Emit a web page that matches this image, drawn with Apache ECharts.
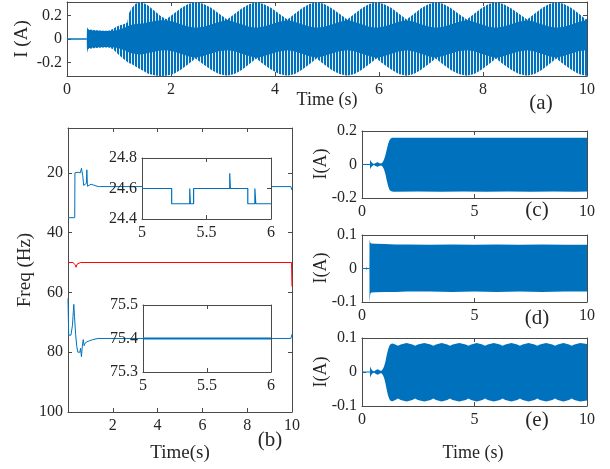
<!DOCTYPE html>
<html>
<head>
<meta charset="utf-8">
<script src="https://cdn.jsdelivr.net/npm/echarts@6/dist/echarts.min.js"></script>
<style>
  html, body { margin: 0; padding: 0; background: #fff; }
  #chart { width: 610px; height: 469px; }
</style>
</head>
<body>
<div id="chart"></div>
<script>
// ---------- (a) current envelope: outer (beating) and inner (solid) bands ----------
const aBaseTime = [0, 0.38];
const aBaseVal = [0, 0];
const aTime = [0.38, 0.385, 0.40, 0.50, 0.60, 0.70, 0.80, 0.88, 0.95, 1.02, 1.10, 1.16, 1.19, 1.25, 1.32, 1.40, 1.48, 1.56, 1.64, 1.72, 1.80,
  1.91, 2.05, 2.19, 2.33, 2.47, 2.62, 2.77, 2.92,
  3.08, 3.22, 3.36, 3.50, 3.64, 3.78, 3.93, 4.08,
  4.24, 4.38, 4.52, 4.66, 4.80, 4.94, 5.09, 5.24,
  5.39, 5.53, 5.67, 5.81, 5.95, 6.09, 6.24, 6.38,
  6.53, 6.67, 6.81, 6.95, 7.09, 7.23, 7.38, 7.53,
  7.69, 7.83, 7.97, 8.11, 8.25, 8.39, 8.54, 8.69,
  8.85, 8.99, 9.13, 9.27, 9.41, 9.55, 9.70, 9.84,
  9.98, 10.0];
const aOuterUp = [0.00, 0.10, 0.082, 0.076, 0.073, 0.071, 0.071, 0.085, 0.105, 0.118, 0.128, 0.14, 0.22, 0.265, 0.30, 0.312, 0.305, 0.285, 0.255, 0.225, 0.195,
  0.168, 0.215, 0.262, 0.297, 0.312, 0.300, 0.265, 0.218,
  0.165, 0.213, 0.260, 0.296, 0.313, 0.299, 0.263, 0.216,
  0.166, 0.214, 0.261, 0.297, 0.312, 0.300, 0.262, 0.215,
  0.165, 0.215, 0.262, 0.298, 0.313, 0.299, 0.264, 0.217,
  0.166, 0.213, 0.261, 0.296, 0.312, 0.300, 0.263, 0.216,
  0.165, 0.214, 0.262, 0.297, 0.313, 0.299, 0.262, 0.215,
  0.166, 0.215, 0.261, 0.298, 0.312, 0.300, 0.264, 0.217,
  0.166, 0.175];
const aOuterLo = [0.00, -0.115, -0.085, -0.078, -0.074, -0.072, -0.072, -0.085, -0.115, -0.145, -0.175, -0.195, -0.205, -0.215, -0.235, -0.255, -0.275, -0.295, -0.305, -0.312, -0.315,
  -0.313, -0.299, -0.262, -0.216, -0.166, -0.214, -0.262, -0.298,
  -0.312, -0.298, -0.263, -0.215, -0.165, -0.215, -0.261, -0.299,
  -0.313, -0.299, -0.262, -0.216, -0.166, -0.214, -0.263, -0.298,
  -0.312, -0.298, -0.261, -0.215, -0.165, -0.216, -0.262, -0.299,
  -0.313, -0.299, -0.262, -0.216, -0.166, -0.214, -0.263, -0.298,
  -0.312, -0.298, -0.261, -0.215, -0.165, -0.215, -0.262, -0.299,
  -0.313, -0.299, -0.263, -0.216, -0.166, -0.214, -0.262, -0.298,
  -0.313, -0.312];
const aInnerUp = [0.00, 0.10, 0.078, 0.072, 0.070, 0.068, 0.068, 0.070, 0.074, 0.082, 0.095, 0.105, 0.115, 0.122, 0.128, 0.13, 0.135, 0.142, 0.148, 0.155, 0.16,
  0.160, 0.146, 0.126, 0.106, 0.096, 0.105, 0.124, 0.145,
  0.161, 0.145, 0.125, 0.105, 0.095, 0.106, 0.125, 0.146,
  0.160, 0.146, 0.126, 0.106, 0.096, 0.105, 0.124, 0.145,
  0.161, 0.145, 0.125, 0.105, 0.095, 0.106, 0.125, 0.146,
  0.160, 0.146, 0.126, 0.106, 0.096, 0.105, 0.124, 0.145,
  0.161, 0.145, 0.125, 0.105, 0.095, 0.106, 0.125, 0.146,
  0.160, 0.146, 0.126, 0.106, 0.096, 0.105, 0.124, 0.145,
  0.160, 0.158];
const aInnerLo = [0.00, -0.115, -0.078, -0.072, -0.070, -0.068, -0.068, -0.070, -0.074, -0.082, -0.095, -0.105, -0.115, -0.122, -0.128, -0.132, -0.128, -0.12, -0.112, -0.104, -0.098,
  -0.096, -0.106, -0.126, -0.146, -0.160, -0.145, -0.124, -0.105,
  -0.095, -0.105, -0.125, -0.145, -0.161, -0.146, -0.125, -0.106,
  -0.096, -0.106, -0.126, -0.146, -0.160, -0.145, -0.124, -0.105,
  -0.095, -0.105, -0.125, -0.145, -0.161, -0.146, -0.125, -0.106,
  -0.096, -0.106, -0.126, -0.146, -0.160, -0.145, -0.124, -0.105,
  -0.095, -0.105, -0.125, -0.145, -0.161, -0.146, -0.125, -0.106,
  -0.096, -0.106, -0.126, -0.146, -0.160, -0.145, -0.124, -0.105,
  -0.096, -0.097];

// ---------- (b) frequencies ----------
const bTimeHigh = [0, 0.30, 0.31, 0.45, 0.55, 0.60, 0.63, 0.66, 0.70, 0.78, 0.82, 0.84, 0.87, 0.95, 1.03, 1.15, 1.30, 1.40, 4, 8, 9.95, 10];
const bFreqHigh = [35, 35, 20, 19.8, 20, 18.5, 18, 21, 24.2, 24, 23.5, 19, 24.5, 24.2, 23.8, 24.1, 24.5, 24.6, 24.6, 24.6, 24.6, 25.8];
const bTimeMid = [0, 0.22, 0.26, 0.30, 0.33, 0.36, 0.40, 0.45, 0.55, 0.85, 0.88, 0.92, 9.98, 10];
const bFreqMid = [50, 50, 50.6, 50.2, 50.8, 51.6, 50.6, 50.3, 50, 50, 50.4, 50, 50, 58];
const bTimeLow = [0, 0.03, 0.13, 0.20, 0.24, 0.26, 0.29, 0.34, 0.39, 0.44, 0.53, 0.56, 0.60, 0.64, 0.68, 0.72, 0.76, 0.85, 0.95, 1.10, 1.34, 4, 8, 9.95, 10];
const bFreqLow = [62, 74.3, 74.3, 71, 66, 64, 68, 74, 78, 80, 80, 78.7, 81.5, 78, 75.8, 77.8, 77, 76.5, 76.2, 75.8, 75.4, 75.4, 75.4, 75.4, 74];
const bZoomTimeHigh = [5, 5.23, 5.23, 5.37, 5.37, 5.375, 5.375, 5.40, 5.40, 5.68, 5.68, 5.685, 5.685, 5.82, 5.82, 5.875, 5.875, 5.882, 5.882, 6];
const bZoomFreqHigh = [24.6, 24.6, 24.5, 24.5, 24.6, 24.6, 24.5, 24.5, 24.6, 24.6, 24.7, 24.7, 24.6, 24.6, 24.5, 24.5, 24.6, 24.6, 24.5, 24.5];
const bZoomTimeLow = [5, 6];
const bZoomFreqLow = [75.4, 75.4];

// ---------- (c) ----------
const cBaseTime = [0, 0.35, 0.95];
const cBaseVal = [0, 0, 0];
const cTime = [0.35, 0.36, 0.40, 0.45, 0.50, 0.55, 0.62, 0.70, 0.78, 0.85, 0.92, 0.98, 1.04, 1.10, 1.16, 1.22, 1.28, 1.34, 1.40, 2.5, 3.5, 4.5, 5.5, 6.5, 7.5, 8.5, 9.5, 10.0];
const cUp = [0, 0.028, 0.018, 0.01, 0.004, 0.004, 0.011, 0.014, 0.008, 0.006, 0.014, 0.03, 0.055, 0.09, 0.122, 0.145, 0.155, 0.159, 0.16, 0.159, 0.16, 0.159, 0.16, 0.159, 0.16, 0.159, 0.16, 0.159];
const cLo = [0, -0.028, -0.018, -0.01, -0.004, -0.004, -0.011, -0.014, -0.008, -0.006, -0.014, -0.03, -0.057, -0.095, -0.128, -0.15, -0.158, -0.161, -0.162, -0.161, -0.162, -0.161, -0.162, -0.161, -0.162, -0.161, -0.162, -0.161];

// ---------- (d) ----------
const dBaseTime = [0, 0.335];
const dBaseVal = [0, 0];
const dTime = [0.18, 0.20, 0.22, 0.33, 0.335, 0.345, 0.36, 0.38, 0.42, 0.6, 1.0, 1.5, 2.0, 3.0, 4.0, 5.0, 6.0, 7.0, 8.0, 9.0, 10.0];
const dUp = [0, 0.006, 0, 0, 0.088, 0.082, 0.078, 0.076, 0.075, 0.074, 0.073, 0.072, 0.072, 0.071, 0.072, 0.071, 0.072, 0.071, 0.072, 0.071, 0.071];
const dLo = [0, -0.006, 0, 0, -0.1, -0.095, -0.08, -0.074, -0.072, -0.071, -0.07, -0.07, -0.069, -0.069, -0.07, -0.069, -0.07, -0.069, -0.07, -0.069, -0.069];

// ---------- (e) ----------
const eBaseTime = [0, 0.35, 0.95];
const eBaseVal = [0, 0, 0];
const eTime = [0.35, 0.36, 0.40, 0.45, 0.50, 0.55, 0.62, 0.70, 0.78, 0.85, 0.92, 0.98, 1.04, 1.10, 1.16, 1.22, 1.28,
  1.36, 1.48, 1.60, 1.72, 1.98, 2.24, 2.36, 2.48, 2.77, 3.05, 3.17, 3.29, 3.54, 3.79, 3.91, 4.03, 4.32, 4.61, 4.73, 4.85,
  5.10, 5.35, 5.47, 5.59, 5.86, 6.13, 6.25, 6.37, 6.64, 6.90, 7.02, 7.14, 7.40, 7.67, 7.79, 7.91, 8.18, 8.46, 8.58, 8.70,
  8.95, 9.20, 9.32, 9.44, 9.70, 10.0];
const eUp = [0, 0.016, 0.01, 0.005, 0.002, 0.002, 0.006, 0.008, 0.005, 0.003, 0.008, 0.016, 0.03, 0.05, 0.066, 0.077, 0.082,
  0.084, 0.081, 0.077, 0.081, 0.085, 0.081, 0.077, 0.081, 0.085, 0.081, 0.077, 0.081, 0.085, 0.081, 0.077, 0.081, 0.085, 0.081, 0.077, 0.081,
  0.085, 0.081, 0.077, 0.081, 0.085, 0.081, 0.077, 0.081, 0.085, 0.081, 0.077, 0.081, 0.085, 0.081, 0.077, 0.081, 0.085, 0.081, 0.077, 0.081,
  0.085, 0.081, 0.077, 0.081, 0.085, 0.082];
const eLo = [0, -0.016, -0.01, -0.005, -0.002, -0.002, -0.006, -0.008, -0.005, -0.003, -0.008, -0.017, -0.032, -0.053, -0.07, -0.08, -0.085,
  -0.086, -0.082, -0.078, -0.082, -0.087, -0.082, -0.078, -0.082, -0.087, -0.082, -0.078, -0.082, -0.087, -0.082, -0.078, -0.082, -0.087, -0.082, -0.078, -0.082,
  -0.087, -0.082, -0.078, -0.082, -0.087, -0.082, -0.078, -0.082, -0.087, -0.082, -0.078, -0.082, -0.087, -0.082, -0.078, -0.082, -0.087, -0.082, -0.078, -0.082,
  -0.087, -0.082, -0.078, -0.082, -0.087, -0.084];

// ---------- tick labels ----------
const ticksTime10 = [0, 2, 4, 6, 8, 10];
const ticksTimeB = [2, 4, 6, 8, 10];
const ticksTime5 = [0, 5, 10];
const ticksInset = [5, 5.5, 6];
const ticksA = [-0.2, 0, 0.2];
const ticksFreq = [20, 40, 60, 80, 100];
const ticksZoomHigh = [24.4, 24.6, 24.8];
const ticksZoomLow = [75.3, 75.4, 75.5];
const ticksC = [-0.2, 0, 0.2];
const ticksDE = [-0.1, 0, 0.1];

// ---------- styling ----------
const FONT = '"Liberation Serif", "Times New Roman", serif';
const BLUE = '#0072BD';
const RED = '#FF0000';
const AXC = '#4a4a4a';
const TXT = '#262626';
const TICK_FS = 16;

const chart = echarts.init(document.getElementById('chart'), null, { renderer: 'canvas' });

// striped fill for the beating outer envelope
const stripe = document.createElement('canvas');
stripe.width = 3; stripe.height = 4;
const sctx = stripe.getContext('2d');
sctx.fillStyle = BLUE; sctx.fillRect(0, 0, 2, 4);
sctx.fillStyle = '#e6eff9'; sctx.fillRect(2, 0, 1, 4);

const grids = [
  { left: 67, top: 2, width: 520, height: 74 },      // a
  { left: 68, top: 128, width: 224, height: 284 },   // b
  { left: 142, top: 158, width: 129, height: 61, z: 5, show: true, backgroundColor: '#fff', borderWidth: 0 }, // b inset high
  { left: 143, top: 305, width: 128, height: 67, z: 5, show: true, backgroundColor: '#fff', borderWidth: 0 }, // b inset low
  { left: 362, top: 131, width: 225, height: 67 },   // c
  { left: 362, top: 235, width: 225, height: 67 },   // d
  { left: 362, top: 338, width: 225, height: 68 }    // e
];

const xAxes = [];
const yAxes = [];
function addAxes(g, xr, xt, yr, yt, opts) {
  opts = opts || {};
  const z = opts.z || 0;
  const common = (ticks) => ({
    type: 'value', gridIndex: g, z: z,
    splitLine: { show: false },
    axisLine: { show: true, onZero: false, lineStyle: { color: AXC, width: 1 } },
    axisTick: { show: true, inside: true, length: 4, customValues: ticks, lineStyle: { color: AXC, width: 1 } }
  });
  const lab = (ticks, margin) => ({
    show: true, customValues: ticks, margin: margin, fontFamily: FONT, fontSize: TICK_FS, color: TXT
  });
  xAxes.push(Object.assign(common(xt), { min: xr[0], max: xr[1], position: 'bottom', axisLabel: lab(xt, 6) }));
  xAxes.push(Object.assign(common(xt), { min: xr[0], max: xr[1], position: 'top', axisLabel: { show: false } }));
  yAxes.push(Object.assign(common(yt), { min: yr[0], max: yr[1], inverse: !!opts.inverse, position: 'left', axisLabel: lab(yt, 5) }));
  yAxes.push(Object.assign(common(yt), { min: yr[0], max: yr[1], inverse: !!opts.inverse, position: 'right', axisLabel: { show: false } }));
}
addAxes(0, [0, 10], ticksTime10, [-0.315, 0.315], ticksA);
addAxes(1, [0, 10], ticksTimeB, [5, 100], ticksFreq, { inverse: true });
addAxes(2, [5, 6], ticksInset, [24.4, 24.8], ticksZoomHigh, { z: 6 });
addAxes(3, [5, 6], ticksInset, [75.3, 75.5], ticksZoomLow, { z: 6 });
addAxes(4, [0, 10], ticksTime5, [-0.2, 0.2], ticksC);
addAxes(5, [0, 10], ticksTime5, [-0.1, 0.1], ticksDE);
addAxes(6, [0, 10], ticksTime5, [-0.1, 0.1], ticksDE);

function pairs(xs, ys) { return xs.map((x, i) => [x, ys[i]]); }

function lineSeries(g, xs, ys, color, width, z) {
  return {
    type: 'line', xAxisIndex: 2 * g, yAxisIndex: 2 * g,
    data: pairs(xs, ys), showSymbol: false, symbol: 'none', silent: true,
    lineStyle: { color: color, width: width || 1 }, z: z || 2, clip: true, animation: false
  };
}

// filled band between a lower and an upper envelope, drawn as one polygon
function bandSeries(g, ts, lo, hi, fill, z) {
  return {
    type: 'custom', xAxisIndex: 2 * g, yAxisIndex: 2 * g,
    data: ts.map((t, i) => [t, lo[i], hi[i]]),
    encode: { x: 0, y: [1, 2] },
    z: z || 2, silent: true, animation: false,
    renderItem: function (params, api) {
      if (params.dataIndex !== 0) return null;
      const pts = [];
      for (let i = 0; i < ts.length; i++) pts.push(api.coord([ts[i], hi[i]]));
      for (let i = ts.length - 1; i >= 0; i--) pts.push(api.coord([ts[i], lo[i]]));
      const cs = params.coordSys;
      return {
        type: 'polygon',
        shape: { points: pts },
        style: { fill: fill, stroke: null },
        clipPath: { type: 'rect', shape: { x: cs.x, y: cs.y, width: cs.width, height: cs.height } }
      };
    }
  };
}

const series = [
  lineSeries(0, aBaseTime, aBaseVal, BLUE, 1.5),
  bandSeries(0, aTime, aOuterLo, aOuterUp, { image: stripe, repeat: 'repeat' }),
  bandSeries(0, aTime, aInnerLo, aInnerUp, BLUE, 3),

  lineSeries(1, bTimeHigh, bFreqHigh, BLUE, 1),
  lineSeries(1, bTimeMid, bFreqMid, RED, 1),
  lineSeries(1, bTimeLow, bFreqLow, BLUE, 1),
  lineSeries(2, bZoomTimeHigh, bZoomFreqHigh, BLUE, 1.2, 7),
  lineSeries(3, bZoomTimeLow, bZoomFreqLow, BLUE, 2, 7),

  lineSeries(4, cBaseTime, cBaseVal, BLUE, 1),
  bandSeries(4, cTime, cLo, cUp, BLUE),
  lineSeries(5, dBaseTime, dBaseVal, BLUE, 1),
  bandSeries(5, dTime, dLo, dUp, BLUE),
  lineSeries(6, eBaseTime, eBaseVal, BLUE, 1),
  bandSeries(6, eTime, eLo, eUp, BLUE)
];

function label(text, x, y, size, rotate) {
  return {
    type: 'text', x: x, y: y, rotation: rotate ? Math.PI / 2 : 0, z: 100,
    style: { text: text, font: size + 'px ' + FONT, fill: TXT, textAlign: 'center', textVerticalAlign: 'middle' }
  };
}

const graphics = [
  label('I (A)', 22, 39, 19, true),
  label('Time (s)', 327, 100, 18),
  label('(a)', 541, 103, 21),
  label('Freq (Hz)', 25, 270, 19, true),
  label('Time(s)', 180, 453, 19),
  label('(b)', 270, 440, 21),
  label('I(A)', 321, 164, 18, true),
  label('(c)', 537, 210, 21),
  label('I(A)', 321, 268, 18, true),
  label('(d)', 537, 318, 21),
  label('I(A)', 321, 372, 18, true),
  label('(e)', 537, 420, 21),
  label('Time (s)', 473, 453, 18)
];

chart.setOption({
  animation: false,
  backgroundColor: '#fff',
  grid: grids,
  xAxis: xAxes,
  yAxis: yAxes,
  series: series,
  graphic: graphics
});
</script>
</body>
</html>
